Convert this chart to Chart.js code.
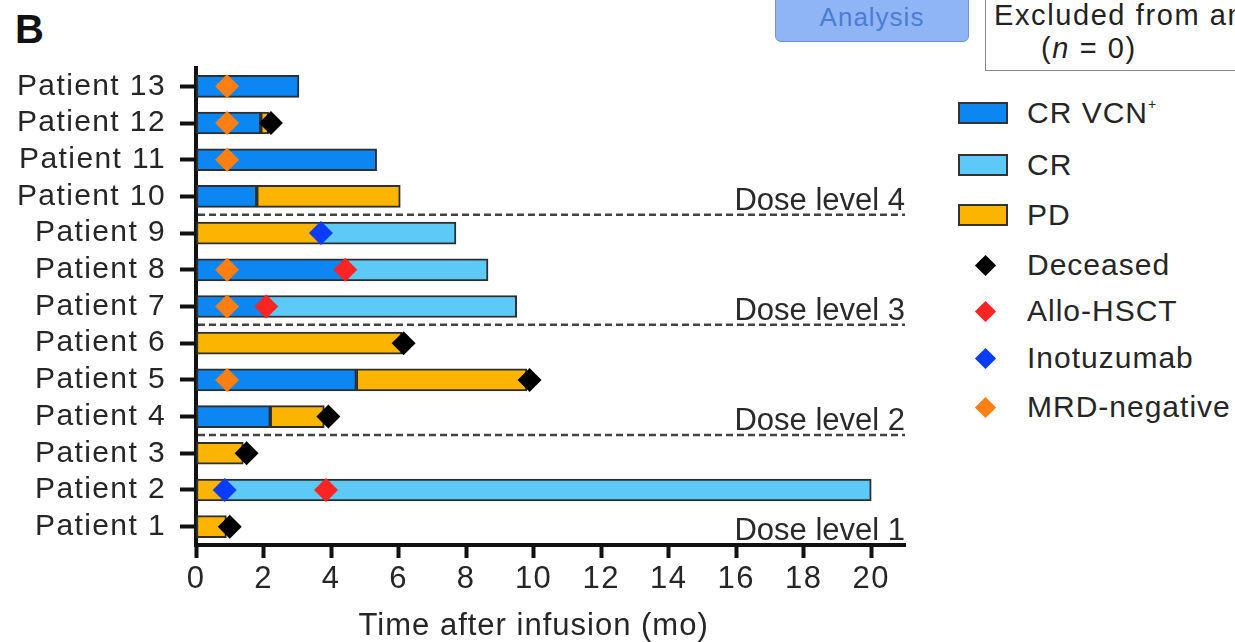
<!DOCTYPE html>
<html>
<head>
<meta charset="utf-8">
<script src="https://cdn.jsdelivr.net/npm/chart.js@4.4.1/dist/chart.umd.min.js"></script>
<style>
  html, body { margin: 0; padding: 0; background: #fff; overflow: hidden; }
  body { width: 1235px; height: 642px; position: relative; font-family: "Liberation Sans", Arial, sans-serif; color: #262626; }
  #wrap { position: absolute; left: 0; top: 0; width: 940px; height: 642px; }
  .panel { position: absolute; left: 15px; top: 7px; font-size: 40px; font-weight: bold; color: #111; }
  .btn { position: absolute; left: 775px; top: -6px; width: 194px; height: 48px; background: #8fb5f6; border: 1.5px solid #6e94d6; border-radius: 6px; color: #4c7dd2; font-size: 26px; letter-spacing: 1px; text-align: center; line-height: 44px; box-sizing: border-box; }
  .excl { position: absolute; left: 985px; top: -4px; width: 300px; height: 75px; border: 1.5px solid #8a8a8a; box-sizing: border-box; font-size: 29px; letter-spacing: 1.6px; color: #222; white-space: nowrap; overflow: hidden; }
  .excl div { position: absolute; }
  .lg { position: absolute; left: 958px; height: 40px; display: flex; align-items: center; font-size: 30px; letter-spacing: 1px; color: #262626; white-space: nowrap; }
  .box { width: 46px; height: 18px; border: 2px solid #333; margin-right: 19px; }
  .dia { width: 15px; height: 15px; transform: rotate(45deg); margin: 0 34px 0 20px; }
  sup { font-size: 14px; vertical-align: 14px; }
</style>
</head>
<body>
<div class="panel">B</div>
<div class="btn">Analysis</div>
<div class="excl">
  <div style="left:8px; top:2px;">Excluded from analysis</div>
  <div style="left:55px; top:35px;">(<i>n</i> = 0)</div>
</div>
<div id="wrap"><canvas id="chart"></canvas></div>
<div id="legend"></div>
<script>
// 患者时间线 - 横向浮动条形图

const patients = ['Patient 13', 'Patient 12', 'Patient 11', 'Patient 10', 'Patient 9', 'Patient 8', 'Patient 7',
  'Patient 6', 'Patient 5', 'Patient 4', 'Patient 3', 'Patient 2', 'Patient 1'];

// 每个状态段 [开始, 结束]（月）
const crVcnPos = [[0, 3.05], [0, 1.92], [0, 5.35], [0, 1.8], null, [0, 4.45], [0, 2.1], null, [0, 4.75], [0, 2.2], null, null, null];
const crOnly = [null, null, null, null, [3.7, 7.7], [4.45, 8.65], [2.1, 9.5], null, null, null, null, [0.85, 20], null];
const pdSeg = [null, [1.92, 2.15], null, [1.8, 6.05], [0, 3.7], null, null, [0, 6.1], [4.75, 9.8], [2.2, 3.8], [0, 1.4], [0, 0.85], [0, 0.9]];

// 事件标记
const deceasedPts = ['Patient 12', 'Patient 6', 'Patient 5', 'Patient 4', 'Patient 3', 'Patient 1'];
const deceasedAt = [2.22, 6.15, 9.88, 3.92, 1.5, 1.0];
const alloPts = ['Patient 8', 'Patient 7', 'Patient 2'];
const alloAt = [4.42, 2.08, 3.85];
const inoPts = ['Patient 9', 'Patient 2'];
const inoAt = [3.7, 0.85];
const mrdPts = ['Patient 13', 'Patient 12', 'Patient 11', 'Patient 8', 'Patient 7', 'Patient 5'];
const mrdAt = [0.92, 0.92, 0.92, 0.92, 0.92, 0.92];

const doseLabels = ['Dose level 4', 'Dose level 3', 'Dose level 2', 'Dose level 1'];
const doseLastRow = ['Patient 10', 'Patient 7', 'Patient 4', 'Patient 1'];
const dashedAfter = ['Patient 10', 'Patient 7', 'Patient 4'];

const xTickValues = [0, 2, 4, 6, 8, 10, 12, 14, 16, 18, 20];
const xTitle = 'Time after infusion (mo)';

const COLORS = {
  crVcn: '#0b86f3',
  cr: '#5cc9f6',
  pd: '#fbb400',
  deceased: '#000000',
  allo: '#ff2424',
  ino: '#0a3cff',
  mrd: '#ff7f12'
};
const FONT = '"Liberation Sans", Arial, sans-serif';

function barSet(label, data, color) {
  return {
    type: 'bar', label, data, backgroundColor: color, borderColor: '#2e2e2e',
    borderWidth: 2, borderSkipped: false, barThickness: 22, grouped: false, order: 2
  };
}
function markSet(label, pts, at, color) {
  return {
    type: 'scatter', label, data: pts.map((p, i) => ({x: at[i], y: p})),
    backgroundColor: color, borderColor: color, borderWidth: 0,
    pointStyle: 'rectRot', pointRadius: 12, order: 1
  };
}

// 字距稍宽一点，接近原图
const spacingPlugin = {
  id: 'spacing',
  beforeLayout(chart) { chart.ctx.letterSpacing = '1.4px'; },
  beforeDraw(chart) { chart.ctx.letterSpacing = '1.4px'; }
};

// 剂量分隔线、标签和x轴标题
const dosePlugin = {
  id: 'dose',
  afterDraw(chart) {
    const {ctx, chartArea} = chart;
    const y = chart.scales.y;
    const x = chart.scales.x;
    const half = (y.getPixelForValue(1) - y.getPixelForValue(0)) / 2;
    ctx.save();
    dashedAfter.forEach(p => {
      const yy = y.getPixelForValue(patients.indexOf(p)) + half;
      ctx.strokeStyle = '#444';
      ctx.lineWidth = 2.5;
      ctx.setLineDash([7, 4]);
      ctx.beginPath();
      ctx.moveTo(chartArea.left + 2, yy);
      ctx.lineTo(chartArea.right, yy);
      ctx.stroke();
    });
    ctx.setLineDash([]);
    ctx.letterSpacing = '0px';
    ctx.fillStyle = '#2a2a2a';
    ctx.font = '31px ' + FONT;
    ctx.textAlign = 'right';
    ctx.textBaseline = 'alphabetic';
    doseLabels.forEach((t, i) => {
      const yy = y.getPixelForValue(patients.indexOf(doseLastRow[i])) + half;
      ctx.fillText(t, chartArea.right, yy - 5);
    });
    // 标题居中于 0-20 区间
    ctx.letterSpacing = '1px';
    ctx.fillStyle = '#262626';
    ctx.textAlign = 'center';
    ctx.textBaseline = 'middle';
    ctx.fillText(xTitle, x.getPixelForValue(10), 626);
    ctx.restore();
  }
};

new Chart(document.getElementById('chart'), {
  data: {
    labels: patients,
    datasets: [
      markSet('Deceased', deceasedPts, deceasedAt, COLORS.deceased),
      markSet('Allo-HSCT', alloPts, alloAt, COLORS.allo),
      markSet('Inotuzumab', inoPts, inoAt, COLORS.ino),
      markSet('MRD-negative', mrdPts, mrdAt, COLORS.mrd),
      barSet('CR VCN+', crVcnPos, COLORS.crVcn),
      barSet('CR', crOnly, COLORS.cr),
      barSet('PD', pdSeg, COLORS.pd)
    ]
  },
  options: {
    indexAxis: 'y',
    responsive: true,
    maintainAspectRatio: false,
    animation: false,
    layout: {padding: {top: 68, right: 35, left: 0, bottom: 0}},
    plugins: {legend: {display: false}, tooltip: {enabled: false}},
    scales: {
      x: {
        type: 'linear', min: 0, max: 21,
        ticks: {color: '#262626', font: {family: FONT, size: 31}, padding: 3, maxRotation: 0, autoSkip: false},
        afterBuildTicks: s => { s.ticks = xTickValues.map(v => ({value: v})); },
        afterFit: s => { s.height = 97; },
        grid: {drawOnChartArea: false, tickLength: 13, tickWidth: 4, tickColor: '#111'},
        border: {display: true, color: '#111', width: 4}
      },
      y: {
        type: 'category',
        ticks: {color: '#262626', font: {family: FONT, size: 30}, padding: 14, autoSkip: false},
        afterFit: s => { s.width = 196; },
        grid: {drawOnChartArea: false, offset: false, tickLength: 16, tickWidth: 4, tickColor: '#111'},
        border: {display: true, color: '#111', width: 4}
      }
    }
  },
  plugins: [spacingPlugin, dosePlugin]
});

// 图例
const legendItems = [
  {label: 'CR VCN<sup>+</sup>', kind: 'box', color: COLORS.crVcn, y: 113},
  {label: 'CR', kind: 'box', color: COLORS.cr, y: 165},
  {label: 'PD', kind: 'box', color: COLORS.pd, y: 215},
  {label: 'Deceased', kind: 'dia', color: COLORS.deceased, y: 265},
  {label: 'Allo-HSCT', kind: 'dia', color: COLORS.allo, y: 311},
  {label: 'Inotuzumab', kind: 'dia', color: COLORS.ino, y: 358},
  {label: 'MRD-negative', kind: 'dia', color: COLORS.mrd, y: 407}
];
const lg = document.getElementById('legend');
legendItems.forEach(it => {
  const row = document.createElement('div');
  row.className = 'lg';
  row.style.top = (it.y - 20) + 'px';
  row.innerHTML = `<div class="${it.kind}" style="background:${it.color}"></div><span>${it.label}</span>`;
  lg.appendChild(row);
});
</script>
</body>
</html>
